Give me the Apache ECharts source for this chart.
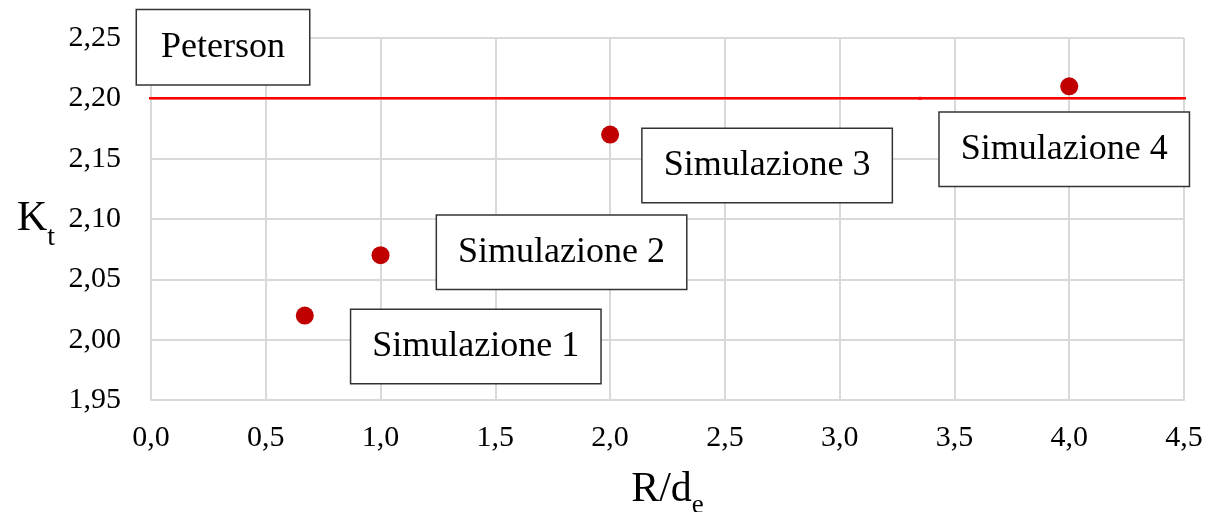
<!DOCTYPE html>
<html>
<head>
<meta charset="utf-8">
<script src="https://cdn.jsdelivr.net/npm/echarts@6/dist/echarts.min.js"></script>
<style>
html,body{margin:0;padding:0;background:#fff;}
#chart{width:1205px;height:512px;}
</style>
</head>
<body>
<div id="chart"></div>
<script>
// ---- data ----
const simNames = ['Simulazione 1', 'Simulazione 2', 'Simulazione 3', 'Simulazione 4'];
const rOverDe = [0.67, 1.0, 2.0, 4.0];
const ktValues = [2.02, 2.07, 2.17, 2.21];
const petersonName = 'Peterson';
const petersonKt = 2.20;
const petersonX = [-0.03, 3.35, 4.52];
const xTicks = { min: 0, max: 4.5, interval: 0.5 };
const yTicks = { min: 1.95, max: 2.25, interval: 0.05 };

// ---- layout (label offsets in px, not data) ----
const simLabelOffsets = [[171, 31], [181, -3], [157, 31], [-5, 63]];
const petersonLabelOffset = [72, -51];

const FONT = '"Liberation Serif", "Times New Roman", serif';
const boxLabel = {
  show: true,
  position: 'inside',
  fontFamily: FONT,
  fontSize: 36,
  lineHeight: 36,
  color: '#000',
  backgroundColor: '#fff',
  borderColor: '#333',
  borderWidth: 1.5,
  padding: [19, 21, 18, 21],
  align: 'center',
  verticalAlign: 'middle'
};

const simData = simNames.map((n, i) => ({
  name: n,
  value: [rOverDe[i], ktValues[i]],
  label: Object.assign({}, boxLabel, { offset: simLabelOffsets[i], formatter: n })
}));

const petersonLine = petersonX.map((x, i) => ({
  value: [x, petersonKt],
  symbolSize: i === 1 ? 3 : 0
}));

const chart = echarts.init(document.getElementById('chart'));
chart.setOption({
  animation: false,
  backgroundColor: '#fff',
  grid: { left: 151, right: 21, top: 38, bottom: 112, containLabel: false, outerBoundsMode: 'none' },
  xAxis: {
    type: 'value',
    min: xTicks.min, max: xTicks.max, interval: xTicks.interval,
    name: '{m|R/d}{s|e}',
    nameLocation: 'middle',
    nameGap: 69,
    nameTextStyle: {
      rich: {
        m: { fontFamily: FONT, fontSize: 42, color: '#000', verticalAlign: 'bottom' },
        s: { fontFamily: FONT, fontSize: 27, color: '#000', verticalAlign: 'bottom', padding: [0, 0, -8, 0] }
      }
    },
    axisLine: { show: true, lineStyle: { color: '#d9d9d9', width: 2 } },
    axisTick: { show: false },
    axisLabel: {
      fontFamily: FONT, fontSize: 30, color: '#000', margin: 23,
      formatter: v => v.toFixed(1).replace('.', ',')
    },
    splitLine: { show: true, lineStyle: { color: '#d9d9d9', width: 2 } }
  },
  yAxis: {
    type: 'value',
    min: yTicks.min, max: yTicks.max, interval: yTicks.interval,
    name: '{m|K}{s|t}',
    nameLocation: 'middle',
    nameRotate: 0,
    nameGap: 96,
    nameTextStyle: {
      rich: {
        m: { fontFamily: FONT, fontSize: 42, color: '#000', verticalAlign: 'bottom' },
        s: { fontFamily: FONT, fontSize: 28, color: '#000', verticalAlign: 'bottom', padding: [0, 0, -12, 0] }
      }
    },
    axisLine: { show: false },
    axisTick: { show: false },
    axisLabel: {
      fontFamily: FONT, fontSize: 30, color: '#000', margin: 30,
      padding: [6, 0, 0, 0],
      formatter: v => v.toFixed(2).replace('.', ',')
    },
    splitLine: { show: true, lineStyle: { color: '#d9d9d9', width: 2 } }
  },
  series: [
    {
      name: petersonName,
      type: 'line',
      clip: false,
      data: petersonLine,
      symbol: 'rect',
      showSymbol: true,
      lineStyle: { color: '#ff0000', width: 2.5 },
      itemStyle: { color: '#ff0000' },
      z: 3
    },
    {
      name: petersonName + ' label',
      type: 'scatter',
      data: [{
        name: petersonName,
        value: [xTicks.min, petersonKt],
        label: Object.assign({}, boxLabel, { offset: petersonLabelOffset, formatter: petersonName, padding: [19, 24, 19, 24] })
      }],
      symbolSize: 1,
      itemStyle: { color: 'rgba(0,0,0,0)', opacity: 1 },
      z: 5
    },
    {
      name: 'Simulazioni',
      type: 'scatter',
      data: simData,
      symbol: 'circle',
      symbolSize: 18,
      itemStyle: { color: '#c00000', opacity: 1 },
      z: 4
    }
  ]
});
</script>
</body>
</html>
